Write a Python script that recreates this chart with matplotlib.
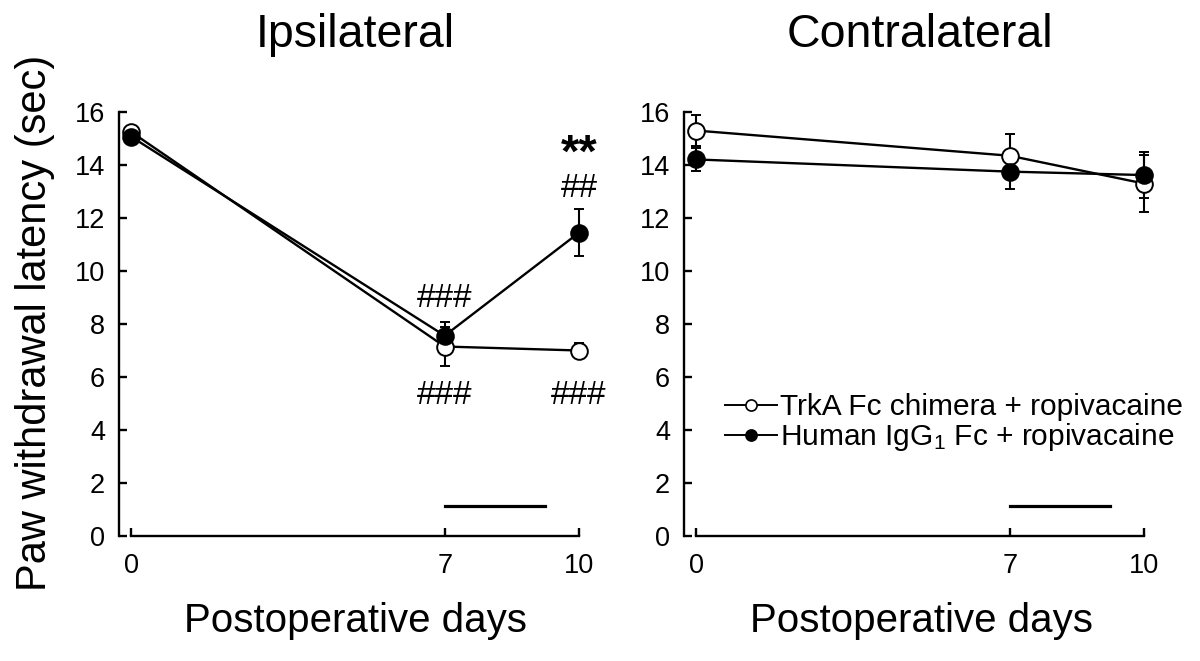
import matplotlib
matplotlib.use("Agg")
import matplotlib.pyplot as plt
from matplotlib.lines import Line2D

plt.rcParams['font.family'] = ['Liberation Sans', 'DejaVu Sans']
plt.rcParams['mathtext.default'] = 'regular'

# ---- data ----
days = [0, 7, 10]
day_ticks = [0, 7, 10]
y_ticks = [0, 2, 4, 6, 8, 10, 12, 14, 16]

ipsi_trka = [15.25, 7.15, 7.0]
ipsi_trka_err = [0.15, 0.75, 0.3]
ipsi_igg = [15.07, 7.56, 11.45]
ipsi_igg_err = [0.2, 0.5, 0.88]

contra_trka = [15.3, 14.35, 13.3]
contra_trka_err = [0.6, 0.82, 1.08]
contra_igg = [14.21, 13.75, 13.62]
contra_igg_err = [0.44, 0.65, 0.87]

treat_days = [7, 9.25]
treat_level = [1.15, 1.15]

label_trka = "TrkA Fc chimera + ropivacaine"
label_igg = "Human IgG$_1$ Fc + ropivacaine"

ipsi_hash_days = [7, 7, 10, 10]
ipsi_hash_vals = [8.95, 5.32, 5.32, 13.1]
ipsi_hash_text = ["###", "###", "###", "##"]
ipsi_star_day = 10
ipsi_star_val = 14.4
ipsi_star_text = "**"

titles = ["Ipsilateral", "Contralateral"]
xlabel = "Postoperative days"
ylabel = "Paw withdrawal latency (sec)"

W, H = 1200, 661
fig = plt.figure(figsize=(W / 100, H / 100), dpi=100)

def px_axes(left, right, top, bottom):
    return fig.add_axes([left / W, 1 - bottom / H, (right - left) / W, (bottom - top) / H])

xl = (-0.27, 10.3)
axL = px_axes(119, 119 + (xl[1] - xl[0]) * 44.8, 112, 536)
axR = px_axes(684, 684 + (xl[1] - xl[0]) * 44.8, 112, 536)

def style(ax):
    ax.set_xlim(*xl)
    ax.set_ylim(0, 16)
    for s in ['top', 'right']:
        ax.spines[s].set_visible(False)
    ax.spines['left'].set_linewidth(1.7)
    ax.spines['bottom'].set_linewidth(1.7)
    ax.spines['bottom'].set_bounds(0, 10)
    ax.set_xticks(day_ticks)
    ax.set_yticks(y_ticks)
    ax.tick_params(axis='y', direction='in', length=6, width=1.7, labelsize=19.5, pad=10)
    ax.tick_params(axis='x', direction='in', length=6, width=1.7, labelsize=19.5, pad=12)
    ax.plot(treat_days, treat_level, color='black', lw=2.3)

def series(ax, y, e, filled, label):
    ax.errorbar(days, y, yerr=e, color='black', lw=1.7, elinewidth=1.5, capsize=3.5,
                capthick=1.5, marker='o', ms=12, mec='black', mew=1.4,
                mfc='black' if filled else 'white', clip_on=False, label=label, zorder=3)

style(axL)
series(axL, ipsi_trka, ipsi_trka_err, False, label_trka)
series(axL, ipsi_igg, ipsi_igg_err, True, label_igg)
for d, v, t in zip(ipsi_hash_days, ipsi_hash_vals, ipsi_hash_text):
    axL.text(d, v, t, ha='center', va='center', fontsize=24)
axL.text(ipsi_star_day, ipsi_star_val, ipsi_star_text, ha='center', va='center',
         fontsize=34, fontweight='bold')

style(axR)
series(axR, contra_trka, contra_trka_err, False, label_trka)
series(axR, contra_igg, contra_igg_err, True, label_igg)

h1 = Line2D([], [], color='black', lw=1.4, marker='o', ms=8, mfc='white', mec='black', mew=1.2)
h2 = Line2D([], [], color='black', lw=1.4, marker='o', ms=8, mfc='black', mec='black', mew=1.2)
axW = axR.get_position().width * W
axR.legend([h1, h2], [label_trka, label_igg], loc='upper left',
           bbox_to_anchor=((725 - 684) / axW, (536 - 393) / 424),
           frameon=False, fontsize=21.5, handlelength=1.75, handletextpad=0.1,
           labelspacing=0.0, borderaxespad=0, borderpad=0)

fig.text(355 / W, 1 - 47 / H, titles[0], ha='center', va='baseline', fontsize=33.5)
fig.text(920 / W, 1 - 47 / H, titles[1], ha='center', va='baseline', fontsize=33.5)
fig.text(356 / W, 1 - 632 / H, xlabel, ha='center', va='baseline', fontsize=29)
fig.text(921 / W, 1 - 632 / H, xlabel, ha='center', va='baseline', fontsize=29)
fig.text(35 / W, 1 - 323 / H, ylabel, ha='center', va='center', rotation=90, fontsize=30)

fig.savefig("out.png", dpi=100)
